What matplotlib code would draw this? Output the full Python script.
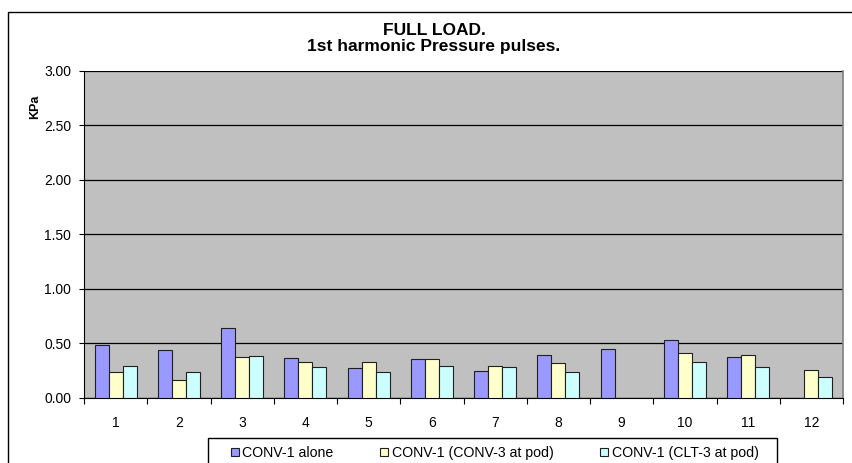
import numpy as np
import matplotlib
matplotlib.use("Agg")
import matplotlib.pyplot as plt
from matplotlib.patches import Rectangle
from matplotlib.ticker import FixedLocator, FormatStrFormatter

plt.rcParams['font.family'] = ['Liberation Sans', 'DejaVu Sans']

categories = ["1", "2", "3", "4", "5", "6", "7", "8", "9", "10", "11", "12"]
series_names = ["CONV-1 alone", "CONV-1 (CONV-3 at pod)", "CONV-1 (CLT-3 at pod)"]
conv1_alone = [0.48, 0.44, 0.64, 0.36, 0.27, 0.35, 0.24, 0.39, 0.45, 0.53, 0.37, np.nan]
conv1_conv3 = [0.23, 0.16, 0.37, 0.33, 0.33, 0.35, 0.29, 0.32, np.nan, 0.41, 0.39, 0.25]
conv1_clt3 = [0.29, 0.23, 0.38, 0.28, 0.23, 0.29, 0.28, 0.23, np.nan, 0.33, 0.28, 0.19]
colors = ["#9999FF", "#FFFFCC", "#CCFFFF"]
yticks = [0.0, 0.5, 1.0, 1.5, 2.0, 2.5, 3.0]

W, H = 853, 463
fig = plt.figure(figsize=(W / 100, H / 100), dpi=100)
fig.patch.set_facecolor("white")

def fx(px):
    return px / W

def fy(py):
    return 1 - py / H

# outer chart border
fig.patches.append(Rectangle((fx(8), -0.1), 1.2, 1.1 - 11.5 / H, transform=fig.transFigure,
                             fill=False, edgecolor="black", linewidth=1.0))
# legend frame
fig.patches.append(Rectangle((fx(208), fy(470)), fx(777 - 208), 32 / H, transform=fig.transFigure,
                             fill=False, edgecolor="black", linewidth=1.0, zorder=5))

ax = fig.add_axes([fx(84), fy(397.5), fx(843 - 84), (397.5 - 71) / H])
ax.set_facecolor("#C0C0C0")

x = np.arange(len(categories))
bw = 0.222
for i, (vals, c, name) in enumerate(zip([conv1_alone, conv1_conv3, conv1_clt3], colors, series_names)):
    ax.bar(x + (i - 1) * bw, vals, width=bw, color=c, edgecolor="#202020", linewidth=0.8,
           label=name, zorder=3)

ax.set_xlim(-0.5, len(categories) - 0.5)
ax.set_ylim(0, 3.0)
ax.yaxis.set_major_locator(FixedLocator(yticks))
ax.yaxis.set_major_formatter(FormatStrFormatter("%.2f"))
ax.grid(axis="y", color="black", linewidth=0.9, zorder=1)
ax.set_axisbelow(True)

ax.set_xticks(x)
ax.set_xticklabels(categories)
ax.set_xticks(np.arange(-0.5, len(categories)), minor=True)
ax.tick_params(axis="x", which="major", length=0, pad=13, labelsize=10)
ax.tick_params(axis="x", which="minor", length=4, width=0.8, direction="out")
ax.tick_params(axis="y", length=3.6, width=0.8, direction="out", labelsize=10, pad=5.5)

ax.spines["top"].set_visible(False)
ax.spines["right"].set_color("#808080")
ax.spines["right"].set_linewidth(1.2)
ax.spines["left"].set_color("black")
ax.spines["bottom"].set_color("black")

fig.text(fx(35), fy(107), "KPa", rotation=90, fontsize=9, fontweight="bold",
         ha="center", va="center")
fig.text(fx(434), fy(30.5), "FULL LOAD.", fontsize=12.5, fontweight="bold",
         ha="center", va="center")
fig.text(fx(434), fy(46.5), "1st harmonic Pressure pulses.", fontsize=12.5, fontweight="bold",
         ha="center", va="center")

leg = fig.legend(loc="center left", bbox_to_anchor=(fx(231), fy(453)), ncol=3,
                 frameon=False, fontsize=10.2,
                 handlelength=0.55, handleheight=0.55, handletextpad=0.25,
                 columnspacing=3.3, borderpad=0, borderaxespad=0)

fig.savefig("out.png", dpi=100)
